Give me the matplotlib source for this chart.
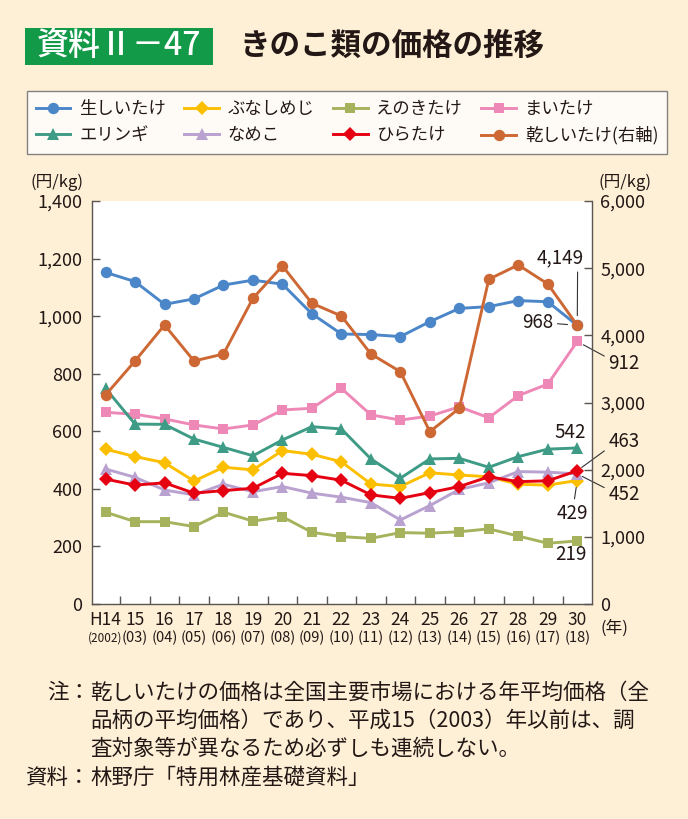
import matplotlib
matplotlib.use('Agg')
import matplotlib.pyplot as plt
from matplotlib.patches import Rectangle
from matplotlib.ticker import FuncFormatter, MultipleLocator
import matplotlib.transforms as mtrans

plt.rcParams['font.family'] = ['Noto Sans CJK JP', 'DejaVu Sans']

# ---------------- data ----------------
years = ["H14", "15", "16", "17", "18", "19", "20", "21", "22", "23",
         "24", "25", "26", "27", "28", "29", "30"]
years_ad = ["(2002)", "(03)", "(04)", "(05)", "(06)", "(07)", "(08)", "(09)",
            "(10)", "(11)", "(12)", "(13)", "(14)", "(15)", "(16)", "(17)", "(18)"]

nama_shiitake = [1152, 1120, 1041, 1060, 1108, 1125, 1111, 1008, 938, 936,
                 929, 981, 1027, 1033, 1054, 1050, 968]
bunashimeji = [538, 512, 491, 427, 475, 466, 533, 520, 494, 417,
               408, 456, 448, 442, 416, 413, 429]
enokitake = [319, 286, 286, 269, 319, 288, 303, 249, 234, 228,
             248, 246, 251, 261, 236, 211, 219]
maitake = [666, 659, 643, 622, 608, 622, 674, 680, 749, 657,
           639, 653, 685, 647, 724, 764, 912]
eringi = [749, 625, 624, 573, 544, 515, 570, 616, 608, 504,
          437, 504, 506, 475, 512, 538, 542]
nameko = [469, 440, 396, 379, 416, 390, 408, 385, 371, 352,
          292, 342, 398, 421, 460, 458, 452]
hiratake = [434, 413, 421, 385, 394, 402, 454, 446, 430, 379,
            367, 387, 408, 442, 425, 428, 463]
hoshi_shiitake = [3112, 3618, 4154, 3618, 3722, 4552, 5033, 4477, 4288, 3722,
                  3459, 2566, 2914, 4835, 5048, 4765, 4149]

names = ["生しいたけ", "ぶなしめじ", "えのきたけ", "まいたけ",
         "エリンギ", "なめこ", "ひらたけ", "乾しいたけ(右軸)"]

# ---------------- style ----------------
BG = '#fdf0d7'
TXT = '#231815'
AXC = '#5b5551'
W, H = 688, 819


def fx(px):
    return px / W


def fy(py):
    return 1 - py / H


fig = plt.figure(figsize=(W / 100, H / 100), dpi=100)
fig.patch.set_facecolor(BG)

# title
fig.patches.append(Rectangle((fx(25), fy(65)), 188 / W, 37 / H,
                             transform=fig.transFigure, facecolor='#139a48',
                             edgecolor='none'))
fig.text(fx(119), fy(46), "資料Ⅱ－47", color='white', fontsize=23,
         fontweight='medium', ha='center', va='center')
fig.text(fx(240), fy(46), "きのこ類の価格の推移", color=TXT, fontsize=22,
         fontweight='bold', ha='left', va='center')

ax = fig.add_axes([fx(92), fy(604), (592 - 92) / W, (604 - 201) / H])
ax.set_facecolor('white')
ax2 = ax.twinx()

x = list(range(len(years)))
LW = 2.1
styles = [
    (nama_shiitake, '#4a86c8', 'o', 8.2, ax),
    (bunashimeji, '#fbbf00', 'D', 7.4, ax),
    (enokitake, '#a6b35c', 's', 7.2, ax),
    (maitake, '#ee88b7', 's', 7.2, ax),
    (eringi, '#3e9b85', '^', 9.0, ax),
    (nameko, '#b9a1d0', '^', 9.0, ax),
    (hiratake, '#e50012', 'D', 7.4, ax),
    (hoshi_shiitake, '#cd6733', 'o', 8.2, ax2),
]
lines = []
for (vals, col, mk, ms, a), nm in zip(styles, names):
    ln, = a.plot(x, vals, color=col, lw=LW, marker=mk, ms=ms, mew=0,
                 label=nm, solid_joinstyle='round')
    lines.append(ln)

ax.set_xlim(-0.46, 16.5)
ax.set_ylim(0, 1400)
ax2.set_ylim(0, 6000)

for s in ['top', 'right']:
    ax.spines[s].set_visible(False)
for s in ['top', 'left', 'bottom']:
    ax2.spines[s].set_visible(False)
for sp in [ax.spines['left'], ax.spines['bottom'], ax2.spines['right']]:
    sp.set_color(AXC)
    sp.set_linewidth(1.0)

fmt = FuncFormatter(lambda v, p: f"{v:,.0f}")
ax.yaxis.set_major_locator(MultipleLocator(200))
ax.yaxis.set_major_formatter(fmt)
ax2.yaxis.set_major_locator(MultipleLocator(1000))
ax2.yaxis.set_major_formatter(fmt)
ax.tick_params(axis='y', direction='in', length=6, width=1, color=AXC,
               pad=7, labelsize=13, labelcolor=TXT)
ax2.tick_params(axis='y', direction='in', length=6, width=1, color=AXC,
                pad=6, labelsize=13, labelcolor=TXT)

ax.set_xticks(x)
ax.set_xticklabels(years)
ax.tick_params(axis='x', which='major', length=0, pad=5, labelsize=12.5,
               labelcolor=TXT)
ax.set_xticks([i + 0.5 for i in range(len(years) - 1)], minor=True)
ax.tick_params(axis='x', which='minor', direction='in', length=6, width=1,
               color=AXC)

btr = mtrans.blended_transform_factory(ax.transData, ax.transAxes)
for i, s in enumerate(years_ad):
    ax.text(i, -(638 - 604) / 403, s, transform=btr, ha='center',
            va='center', fontsize=8.5 if len(s) > 4 else 10.5, color=TXT)

fig.text(fx(31), fy(182), "(円/kg)", fontsize=12, color=TXT, ha='left',
         va='center')
fig.text(fx(599), fy(182), "(円/kg)", fontsize=12, color=TXT, ha='left',
         va='center')
fig.text(fx(601), fy(628), "(年)", fontsize=12, color=TXT, ha='left',
         va='center')

# legend (column-major order for 2 rows x 4 cols)
order = [0, 4, 1, 5, 2, 6, 3, 7]
leg = fig.legend([lines[i] for i in order], [names[i] for i in order],
                 ncol=4, loc='upper left',
                 bbox_to_anchor=(fx(27), fy(91), (667 - 27) / W, 0),
                 mode='expand', fontsize=12.5, frameon=True, fancybox=False,
                 edgecolor='#666666', borderaxespad=0, handlelength=2.0,
                 handletextpad=0.5, labelspacing=0.5, borderpad=0.5)
leg.get_frame().set_linewidth(1.0)
for t in leg.get_texts():
    t.set_color(TXT)

# annotations
last = len(years) - 1
ap = dict(arrowstyle='-', color='#333333', lw=0.8)


def ann(a, txt, val, dx, dy, ha, relpos=None, shrinkB=5):
    kw = {}
    if relpos is not None:
        d = dict(ap)
        d.update(relpos=relpos, shrinkA=1, shrinkB=shrinkB)
        kw['arrowprops'] = d
    a.annotate(txt, xy=(last, val), xytext=(dx, dy), textcoords='offset pixels',
               ha=ha, va='center', fontsize=13.5, color=TXT, **kw)


ann(ax2, f"{hoshi_shiitake[last]:,}", hoshi_shiitake[last], 6, 68, 'right',
    relpos=(0.88, 0.0), shrinkB=7)
ann(ax, f"{nama_shiitake[last]:,}", nama_shiitake[last], -24, 3, 'right',
    relpos=(1.0, 0.45), shrinkB=7)
ann(ax, f"{maitake[last]:,}", maitake[last], 31, -22, 'left',
    relpos=(0.0, 0.75), shrinkB=5)
ann(ax, f"{eringi[last]:,}", eringi[last], -7, 15, 'center')
ann(ax, f"{hiratake[last]:,}", hiratake[last], 31, 29, 'left',
    relpos=(0.0, 0.2), shrinkB=4)
ann(ax, f"{nameko[last]:,}", nameko[last], 31, -21, 'left',
    relpos=(0.0, 0.75), shrinkB=4)
ann(ax, f"{bunashimeji[last]:,}", bunashimeji[last], -5, -33, 'center',
    relpos=(0.55, 1.0), shrinkB=5)
ann(ax, f"{enokitake[last]:,}", enokitake[last], -6, -14, 'center')

# notes
NFS = 15.5
fig.text(fx(90), fy(693), "注：", fontsize=NFS, color=TXT, ha='right', va='center')
fig.text(fx(90), fy(693), "乾しいたけの価格は全国主要市場における年平均価格（全",
         fontsize=NFS, color=TXT, ha='left', va='center')
fig.text(fx(90), fy(721), "品柄の平均価格）であり、平成15（2003）年以前は、調",
         fontsize=NFS, color=TXT, ha='left', va='center')
fig.text(fx(90), fy(749), "査対象等が異なるため必ずしも連続しない。",
         fontsize=NFS, color=TXT, ha='left', va='center')
fig.text(fx(90), fy(778), "資料：", fontsize=NFS, color=TXT, ha='right', va='center')
fig.text(fx(90), fy(778), "林野庁「特用林産基礎資料」",
         fontsize=NFS, color=TXT, ha='left', va='center')

fig.savefig('out.png', dpi=100, facecolor=BG)
